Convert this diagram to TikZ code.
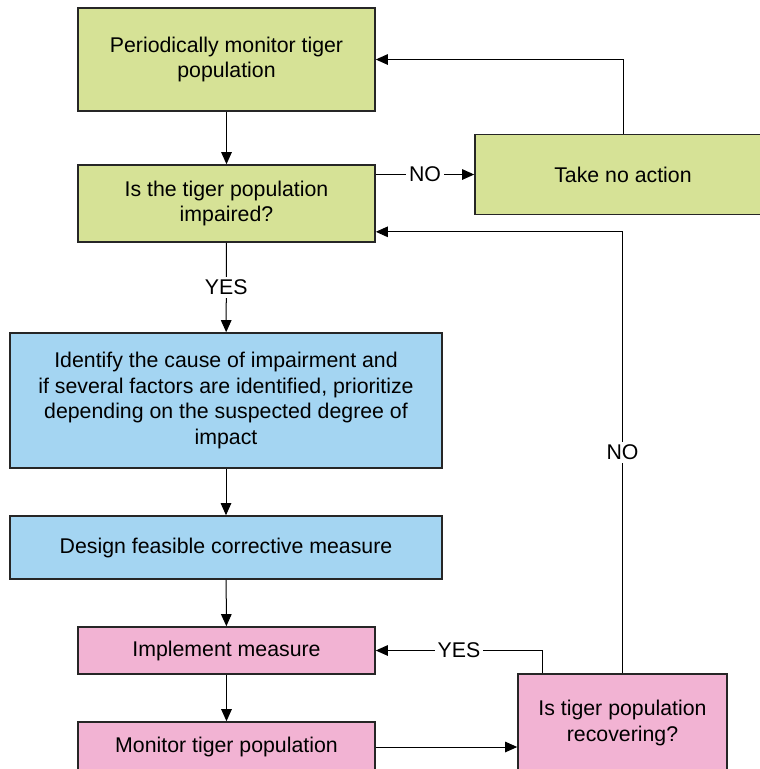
\documentclass[tikz,border=0pt]{standalone}
\usepackage{fontspec}
\setmainfont{Liberation Sans}
\usepackage{xcolor}
\usetikzlibrary{arrows.meta}
\tikzset{%
  tipA/.tip={Triangle[length=12pt,width=10.5pt]}
}
\definecolor{boxgreen}{HTML}{D6E296}
\definecolor{boxblue}{HTML}{A4D5F2}
\definecolor{boxpink}{HTML}{F2B3D3}

\begin{document}
\begin{tikzpicture}[x=1pt,y=-1pt,
  box/.style={draw=black!85 , line width=1.6pt , align=center , inner sep=0pt , font=\fontsize{21.3}{25.7}\selectfont},
  greenbox/.style={box , fill=boxgreen},
  bluebox/.style={box , fill=boxblue},
  pinkbox/.style={box , fill=boxpink},
  link/.style={line width=1pt , -tipA},
  lbl/.style={fill=white , inner sep=3pt , font=\fontsize{21.3}{24}\selectfont}]
\clip (0,0) rectangle (760,769);
\node[greenbox , minimum width=297pt , minimum height=103pt] (monitor) at (226.5,59.5) {Periodically monitor tiger\\population};
\node[greenbox , minimum width=297pt , minimum height=77pt] (impaired) at (226.5,203.5) {Is the tiger population\\impaired?};
\node[greenbox , minimum width=296pt , minimum height=80pt] (noaction) at (623,174.5) {Take no action};
\node[bluebox , minimum width=432pt , minimum height=135pt] (cause) at (226,400.5) {Identify the cause of impairment and\\if several factors are identified, prioritize\\depending on the suspected degree of\\impact};
\node[bluebox , minimum width=432pt , minimum height=63pt] (design) at (226,547.5) {Design feasible corrective measure};
\node[pinkbox , minimum width=297pt , minimum height=47pt] (implement) at (226.5,650.5) {Implement measure};
\node[pinkbox , minimum width=297pt , minimum height=50pt] (monitortwo) at (226.5,747) {Monitor tiger population};
\node[pinkbox , minimum width=209pt , minimum height=98pt] (recovering) at (622.5,723) {Is tiger population\\recovering?};
% connectors
\draw[link] (monitor) -- (impaired);
\draw[link] (impaired.east |- noaction.west) -- node[lbl]{NO} (noaction.west);
\draw[link] (noaction.north) |- (monitor.east);
\draw[link] (impaired) -- node[lbl]{YES} (cause);
\draw[link] (cause) -- (design);
\draw[link] (design) -- (implement);
\draw[link] (implement) -- (monitortwo);
\draw[link] (monitortwo.east) -- (recovering.west |- monitortwo.east);
\draw[link] ([xshift=25pt]recovering.north west) |- node[lbl , pos=0.75]{YES} (implement.east);
\draw[link] (recovering.north) |- node[lbl , pos=0.25]{NO} ([yshift=11pt]impaired.south east);
\end{tikzpicture}
\end{document}
